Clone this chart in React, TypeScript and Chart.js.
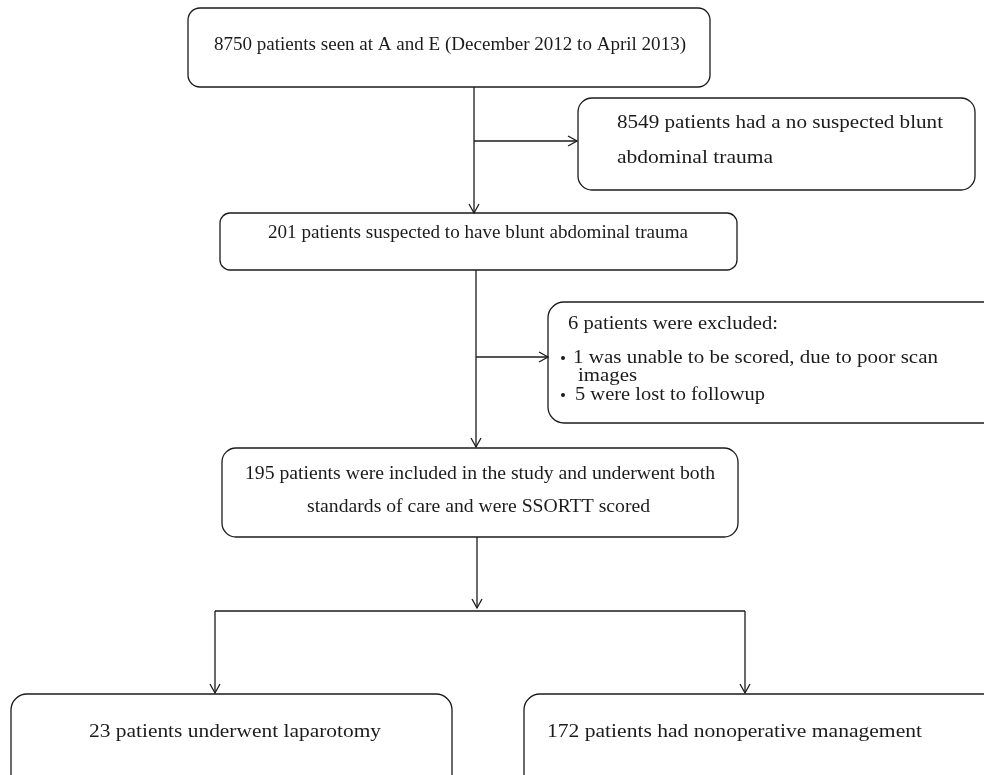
import React, { useEffect, useRef } from "react";
import { Chart, registerables } from "chart.js";

Chart.register(...registerables);

// ---- content (values / texts) ----
const stageCounts = [8750, 8549, 201, 6, 195, 23, 172];
const mainTexts = [
  ["8750 patients seen at A and E (December 2012 to April 2013)"],
  ["201 patients suspected to have blunt abdominal trauma"],
  ["195 patients were included in the study and underwent both", "standards of care and were SSORTT scored"],
];
const sideTexts = [["8549 patients had a no suspected blunt", "abdominal trauma"]];
const exclusionTitle = "6 patients were excluded:";
const exclusionBullets = [
  ["1 was unable to be scored, due to poor scan", "images"],
  ["5 were lost to followup"],
];
const outcomeTexts = ["23 patients underwent laparotomy", "172 patients had nonoperative management"];

// ---- layout (page units, 984 x 775) ----
const LAYOUT = {
  box1: { x0: 188, y0: 8, x1: 710, y1: 87, r: 12 },
  side1: { x0: 578, y0: 98, x1: 975, y1: 190, r: 14 },
  box2: { x0: 220, y0: 213, x1: 737, y1: 270, r: 10 },
  side2: { x0: 548, y0: 302, x1: 1000, y1: 423, r: 16 },
  box3: { x0: 222, y0: 448, x1: 738, y1: 537, r: 14 },
  out1: { x0: 11, y0: 694, x1: 452, y1: 800, r: 16 },
  out2: { x0: 524, y0: 694, x1: 1010, y1: 800, r: 16 },
};
// text placement: [x start, x end, baseline]
const TEXT_POS = {
  main: [
    [[214, 686, 50]],
    [[268, 688, 238]],
    [[245, 715, 479], [307, 650, 512]],
  ],
  side: [[[617, 943, 128], [617, 773, 163]]],
  exTitle: [568, 778, 329],
  exBullets: [
    [[573, 938, 363], [578, 637, 381]],
    [[575, 765, 400]],
  ],
  bulletX: 563,
  outcome: [[89, 381, 737], [547, 922, 737]],
};

const FONT = '"Liberation Serif", "DejaVu Serif", serif';
const INK = "#1b1b1b";

function drawFlow(chart: any) {
  const ctx: CanvasRenderingContext2D = chart.ctx;
  const xs = chart.scales.x;
  const ys = chart.scales.y;
  const px = (v: number) => xs.getPixelForValue(v);
  const py = (v: number) => ys.getPixelForValue(v);

  ctx.save();
  ctx.fillStyle = "#ffffff";
  ctx.fillRect(0, 0, chart.width, chart.height);
  ctx.strokeStyle = INK;
  ctx.fillStyle = INK;
  ctx.lineWidth = 1.3;

  const box = (b: any) => {
    const x0 = px(b.x0), x1 = px(b.x1), y0 = py(b.y0), y1 = py(b.y1);
    ctx.beginPath();
    ctx.roundRect(x0, y0, x1 - x0, y1 - y0, b.r);
    ctx.stroke();
  };
  const line = (xa: number, ya: number, xb: number, yb: number) => {
    ctx.beginPath();
    ctx.moveTo(px(xa), py(ya));
    ctx.lineTo(px(xb), py(yb));
    ctx.stroke();
  };
  const arrowDown = (x: number, y: number) => {
    ctx.beginPath();
    ctx.moveTo(px(x) - 5, py(y) - 9);
    ctx.lineTo(px(x), py(y));
    ctx.lineTo(px(x) + 5, py(y) - 9);
    ctx.stroke();
  };
  const arrowRight = (x: number, y: number) => {
    ctx.beginPath();
    ctx.moveTo(px(x) - 9, py(y) - 5);
    ctx.lineTo(px(x), py(y));
    ctx.lineTo(px(x) - 9, py(y) + 5);
    ctx.stroke();
  };
  // text fitted between x0 and x1 at a baseline
  const text = (s: string, pos: number[], size = 18.5) => {
    const [x0, x1, base] = pos;
    ctx.font = `${size}px ${FONT}`;
    ctx.textAlign = "left";
    ctx.textBaseline = "alphabetic";
    const w = ctx.measureText(s).width;
    const target = px(x1) - px(x0);
    const sx = w > 0 ? target / w : 1;
    ctx.save();
    ctx.translate(px(x0), py(base));
    ctx.scale(sx, 1);
    ctx.fillText(s, 0, 0);
    ctx.restore();
  };

  const L = LAYOUT;
  Object.values(L).forEach(box);

  // connectors
  line(474, 87, 474, 213); arrowDown(474, 213);
  line(474, 141, 577, 141); arrowRight(577, 141);
  line(476, 270, 476, 447); arrowDown(476, 447);
  line(476, 357, 548, 357); arrowRight(548, 357);
  line(477, 537, 477, 608); arrowDown(477, 608);
  line(215, 611, 745, 611);
  line(215, 611, 215, 693); arrowDown(215, 693);
  line(745, 611, 745, 693); arrowDown(745, 693);

  // texts
  mainTexts.forEach((lines, i) => lines.forEach((s, j) => text(s, TEXT_POS.main[i][j])));
  sideTexts.forEach((lines, i) => lines.forEach((s, j) => text(s, TEXT_POS.side[i][j])));
  text(exclusionTitle, TEXT_POS.exTitle, 18);
  exclusionBullets.forEach((b, i) => {
    const p = TEXT_POS.exBullets[i];
    ctx.beginPath();
    ctx.arc(px(TEXT_POS.bulletX), py(p[0][2] - 5), 2, 0, Math.PI * 2);
    ctx.fill();
    b.forEach((s, j) => text(s, p[j], 18));
  });
  outcomeTexts.forEach((s, i) => text(s, TEXT_POS.outcome[i]));
  ctx.restore();
}

export default function App() {
  const ref = useRef<HTMLCanvasElement>(null);
  useEffect(() => {
    document.body.style.margin = "0";
    const chart = new Chart(ref.current!, {
      type: "scatter",
      data: {
        datasets: [
          {
            label: "stages",
            data: stageCounts.map(() => ({ x: -100, y: -100 })),
            pointRadius: 0,
          },
        ],
      },
      options: {
        animation: false,
        responsive: false,
        devicePixelRatio: 1,
        layout: { padding: 0 },
        events: [],
        plugins: { legend: { display: false }, tooltip: { enabled: false } },
        scales: {
          x: { type: "linear", min: 0, max: 984, display: false },
          y: { type: "linear", min: 0, max: 775, reverse: true, display: false },
        },
      },
      plugins: [{ id: "flow", afterDraw: drawFlow }],
    });
    return () => chart.destroy();
  }, []);
  return (
    <div style={{ width: 984, height: 775 }}>
      <canvas ref={ref} width={984} height={775} />
    </div>
  );
}
